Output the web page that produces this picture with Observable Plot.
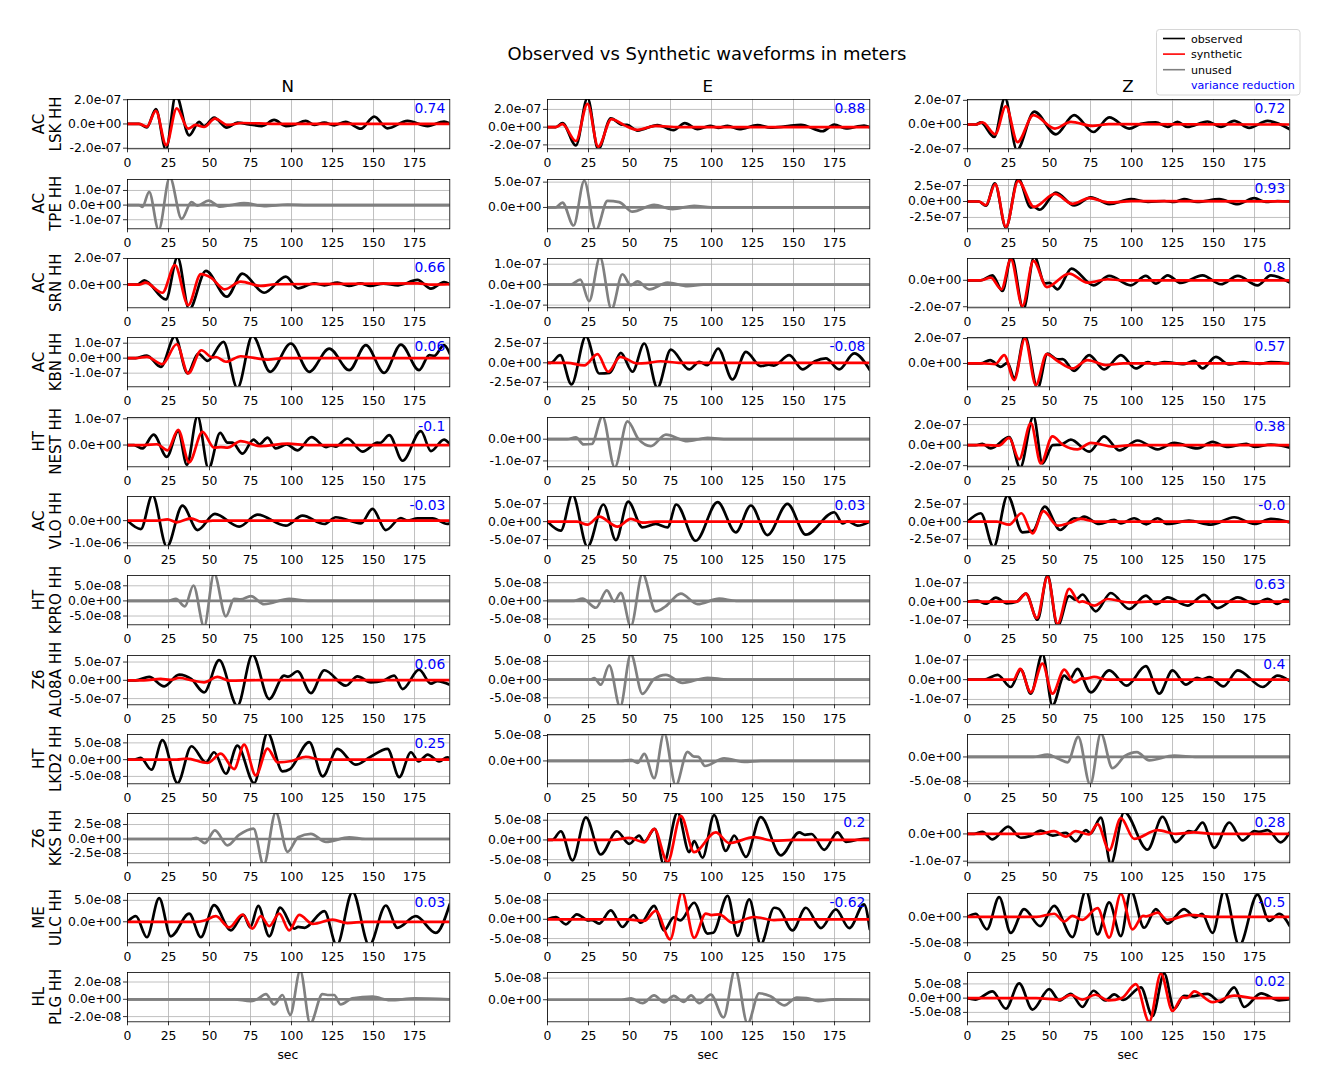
<!DOCTYPE html>
<html><head><meta charset="utf-8">
<script src="https://cdn.jsdelivr.net/npm/d3@7"></script>
<script src="https://cdn.jsdelivr.net/npm/@observablehq/plot@0.6"></script>
<style>
body{margin:0;background:#fff;}
#fig{position:relative;width:1329px;height:1091px;background:#fff;font-family:"DejaVu Sans",sans-serif;overflow:hidden;}
</style></head><body><div id="fig"></div>
<script>
// ---------- DATA (amplitudes in units of 1e-8 m, time in s) ----------
const UNIT = 1e-8;
const title = "Observed vs Synthetic waveforms in meters";
const components = ["N", "E", "Z"];
const stations = ["AC\nLSK HH","AC\nTPE HH","AC\nSRN HH","AC\nKBN HH","HT\nNEST HH","AC\nVLO HH","HT\nKPRO HH","Z6\nAL08A HH","HT\nLKD2 HH","Z6\nKKS HH","ME\nULC HH","HL\nPLG HH"];
const xTicks = [0,25,50,75,100,125,150,175];
const xDomain = [0, 196.5];
const legendLabels = ["observed","synthetic","unused","variance reduction"];
const varianceReduction = [
 ["0.74","0.88","0.72"],[null,null,"0.93"],["0.66",null,"0.8"],["0.06","-0.08","0.57"],
 ["-0.1",null,"0.38"],["-0.03","0.03","-0.0"],[null,null,"0.63"],["0.06",null,"0.4"],
 ["0.25",null,null],[null,"0.2","0.28"],["0.03","-0.62","-0.5"],[null,null,"0.02"]];
const yLimits = [
 [[-20.5,20.2],[-24.4,31.2],[-20.1,20.7]],
 [[-16.2,17.5],[-42.2,55.2],[-42.8,34.5]],
 [[-17.7,20],[-11.3,12.8],[-20.8,16.5]],
 [[-19.1,13.8],[-30.8,32.5],[-18.7,20.8]],
 [[-8.3,10.5],[-12.7,10],[-21.1,26.9]],
 [[-113.6,109],[-67.3,70],[-34.3,35.7]],
 [[-7.9,8.4],[-6.6,7],[-12.3,13.9]],
 [[-67,67.9],[-6.9,6.6],[-12.7,12.2]],
 [[-7.2,7.5],[-4.5,5.2],[-5.5,4.6]],
 [[-4.1,4.4],[-5.8,6.7],[-10.6,7.5]],
 [[-4.9,6.6],[-6.1,6.7],[-5,4.5]],
 [[-2.6,3.1],[-5.1,6.3],[-8.3,9]]];
const yTicks = [
 [[-20,0,20],[-20,0,20],[-20,0,20]],
 [[-10,0,10],[0,50],[-25,0,25]],
 [[0,20],[-10,0,10],[-20,0]],
 [[-10,0,10],[-25,0,25],[0,20]],
 [[0,10],[-10,0],[-20,0,20]],
 [[-100,0],[-50,0,50],[-25,0,25]],
 [[-5,0,5],[-5,0,5],[-10,0,10]],
 [[-50,0,50],[-5,0,5],[-10,0,10]],
 [[-5,0,5],[0,5],[-5,0]],
 [[-2.5,0,2.5],[-5,0,5],[-10,0]],
 [[0,5],[-5,0,5],[-5,0]],
 [[-2,0,2],[0,5],[-5,0,5]]];

const ZERO = [[0,0],[196.5,0]];

const LSK_N = [[0,0],[7,0],[11.8,-2.8],[17.3,12.2],[23.4,-21],[29.5,24],[37.6,-9.4],[43.7,1.7],[46.7,-1.7],[52.8,5.3],[60.6,-3],[67,1.1],[74,-0.3],[82,-1.7],[89.4,3.3],[96.5,-1.7],[101,-1],[108.7,2.5],[113.8,-0.8],[120,1.1],[126,-1.1],[133,1.7],[142.3,-3.9],[150.4,6.1],[158.5,-3.6],[170.7,2.5],[183,-1.7],[193,1.9],[196.5,0.5]];
const LSK_N_syn = [[0,0],[7,0],[11.8,-2.2],[17.3,10.8],[23.6,-17.5],[30,12.8],[37,-3.9],[41.5,-0.8],[46.7,-2.5],[53.3,4.4],[61,-0.8],[70,0.8],[90,0.1],[196.5,0]];
const LSK_E = [[0,0],[5,0],[9.1,4.6],[17.3,-20.6],[24.4,33],[30.9,-25],[38.6,9.9],[45.7,2.7],[48.5,2.5],[54.9,-3.8],[67,2.3],[76.8,-3.4],[83.7,4.6],[91.5,-2.3],[99.2,1.5],[104,-0.8],[109.8,1.5],[116.9,-2.3],[128,2.3],[136,-0.5],[145,0.8],[154.5,2.7],[167.7,-4.6],[174.8,3],[182,-1.5],[193,1.9],[196.5,0]];
const LSK_E_syn = [[0,0],[5,0],[9.1,3.4],[17.3,-15.6],[24.4,26.3],[30.9,-22],[39,9.1],[46.7,2.3],[54.9,-3],[66,1.5],[80,0],[196.5,0]];
const LSK_Z = [[0,0],[5,0],[8.1,1.7],[16.3,-10.3],[22.8,22],[30.1,-21],[40.7,10.6],[53.9,-8.1],[65,7.8],[76.8,-6.2],[86.4,5.9],[98.6,-3.4],[105.7,0.5],[114.8,1.7],[122,-2],[128,2.2],[134,-2],[146.3,2.5],[154.5,-2],[162.6,3],[171.7,-2.8],[183,3],[196.5,-3.9]];
const LSK_Z_syn = [[0,0],[5,0],[9.1,1.7],[16.9,-8.1],[23.4,15.1],[30.5,-14.5],[40.2,7.8],[53.3,-3.4],[63,2.2],[76.2,-1.1],[86,0.3],[196.5,0]];

const TPE_N = [[0,0],[7,0],[9.1,-1.3],[13.2,9],[19,-17],[25.8,19],[33,-9.4],[39,2],[42.7,-0.4],[49.4,3.1],[56.5,-1.1],[63,0],[71,1.3],[83.3,-0.7],[97.6,0.4],[110,0],[196.5,0]];
const TPE_E = [[0,0],[5,0],[9.1,9.7],[15.9,-35.7],[22.4,52.6],[29.5,-45],[36.6,13],[43.7,10.4],[51.8,-8.4],[65,5.2],[76.2,-3.2],[89.4,3.2],[100,0],[196.5,0]];
const TPE_Z = [[0,0],[7,0],[11.2,-6.7],[16.7,28.4],[23.4,-41],[30.9,36],[38.6,-9.5],[40.5,-8.5],[44,-12.9],[53.9,13.9],[65,-6.2],[75.2,6.7],[86.4,-4.1],[99.6,3.6],[110,-0.5],[120,0.8],[126,-0.8],[132,3.6],[140,-0.8],[153.5,3.6],[164.8,-4.1],[174.8,5.2],[182,-0.8],[189,0.8],[196.5,0]];
const TPE_Z_syn = [[0,0],[7,0],[11.2,-5.7],[16.9,27.3],[23.4,-39.7],[30.9,32.5],[40.5,-8.5],[53.3,11.9],[64,-3.6],[74.2,5.2],[86.4,-1.5],[100,0.5],[196.5,0]];

const SRN_N = [[0,0],[6,0],[10.2,3.3],[23.4,-11.3],[30.5,21],[37.6,-19],[47.8,10.5],[60.6,-9.2],[70,8.5],[83.3,-6.2],[96.5,6.2],[104,-2.8],[113.8,1],[120,-0.5],[128,1.5],[135,-1],[142,1],[148,-1],[156,0.8],[165,-0.5],[176.8,3.6],[185,-3],[193,2],[196.5,0.3]];
const SRN_N_syn = [[0,0],[7,0],[11,1.5],[21.3,-6.2],[28.9,14.9],[37,-15.6],[44.7,8],[50.8,5.4],[59.3,-3.6],[69,2.3],[81.3,-1],[90,0.3],[177,1],[185,0],[196.5,0.3]];
const SRN_E = [[0,0],[14,0],[20,2.5],[25.4,-8],[32,13.5],[39,-12],[45.7,5.1],[50.8,-0.3],[54.9,1.6],[62,-2.3],[73.2,1],[85.4,-0.7],[95,0],[196.5,0]];
const SRN_Z = [[0,0],[8,0],[15.2,3.8],[21.3,-8.1],[26.8,18],[34.1,-22],[40.7,18],[47.1,-2.3],[50,-2],[54.9,-6.8],[63.4,8.9],[76.8,-3.8],[86.4,3.3],[99.6,-3.8],[108.7,3.3],[115,-2.5],[122,3.8],[130,-2],[143.3,3.8],[154.5,-3],[164.8,3.3],[176.8,-3.8],[185,3.8],[196.5,-1.8]];
const SRN_Z_syn = [[0,0],[8,0],[14.2,2],[20.7,-6.8],[26.4,16],[33.5,-19.5],[40.2,14.7],[48.4,-5.1],[62,5.1],[73.2,-1.8],[85.4,0.8],[95,0],[196.5,0]];

const KBN_N = [[0,0],[5,0],[11.8,1.8],[20.3,-5.8],[28.9,14.5],[36.6,-10.2],[43.1,3.1],[48.8,-1.8],[58.5,10.9],[67,-20],[76.2,15],[87,-9.1],[99.6,9.8],[110.8,-9.1],[123,6.4],[135.2,-8],[145.3,8.7],[156.5,-9.8],[166.7,9.1],[177.8,-8],[184,2],[187,1.5],[193,8.7],[196.5,3]];
const KBN_N_syn = [[0,0],[5,0],[11.8,0.9],[21.3,-4],[30,9.3],[37,-10.2],[45,5.3],[51.8,0.4],[54,0.8],[60,-2.4],[69,1.3],[85.4,-0.9],[95,0],[196.5,0]];
const KBN_E = [[0,0],[2,0],[7.7,9.8],[14.6,-27.8],[23.4,34],[31.5,-13.7],[38,-13],[44.7,12.8],[51.8,-11.5],[59,24.8],[67,-32],[75.2,17],[86.4,-8.5],[92.5,1.3],[97.6,-3],[104,18.4],[112.8,-21.4],[121,14.1],[130,-4.3],[135,-2.5],[138,-3.5],[147.4,9.8],[155.5,-8.5],[163,2],[169.7,5.6],[177.8,-8.5],[187,12],[196.5,-9.4]];
const KBN_E_syn = [[0,0],[12,0],[22.4,-3.4],[30.5,11.1],[37,-11.5],[44.3,7.7],[54.9,-0.9],[60,-0.5],[69,2],[80,0],[196.5,0]];
const KBN_Z = [[0,0],[8,0],[13.8,2.7],[20.3,-2.7],[24.4,0.5],[28.5,-11.5],[35,22],[42.7,-20],[48.8,8],[54.9,3.2],[58,3.5],[65,-5.9],[74.2,6.7],[83.3,-4.8],[93.5,6.7],[102.6,-4],[110,1],[114,-0.5],[120,1],[132,-0.5],[138.2,2.1],[143.3,-4],[151.4,5.3],[159.5,-0.8],[168,1],[178,-0.3],[185,1],[196.5,0]];
const KBN_Z_syn = [[0,0],[10,0],[17,-0.5],[22.4,6.7],[28.5,-13.3],[35,20],[41.7,-17.3],[48.2,7.5],[54.9,2],[64,-4],[73.2,2.7],[84.4,-1.3],[95,0],[196.5,0]];

const NEST_N = [[0,0],[4,0],[9.1,-1.3],[15.9,4],[24,-4.5],[30.9,5.3],[36.2,-7.5],[42.7,11],[49.4,-9],[56.5,4.6],[61,0.9],[64,0.9],[70.1,-3.3],[76.8,2.1],[80.5,0.3],[85.4,2.8],[90.4,-1.3],[97,0.2],[103.7,-2],[112.2,3],[121,-0.8],[124,-0.2],[127,-0.6],[134.1,2.5],[143.3,-2.5],[152.4,0.9],[154,0.8],[159.6,3.8],[167.7,-6],[178.9,5.3],[185,-2.3],[193,2.1],[196.5,0.3]];
const NEST_N_syn = [[0,0],[10,0],[18,0.3],[24.4,-2],[30.9,5.8],[37.6,-6.6],[45.7,5],[52.8,-1],[57,-0.8],[61,-1],[69,1.5],[81,-0.4],[97.6,0.5],[110,0],[196.5,0]];
const NEST_E = [[0,0],[12,0],[17.3,0.9],[22,-2.4],[27,-2.2],[33.5,10.5],[41,-13],[48.8,8.2],[55.5,0],[63,-3.2],[72.2,2.1],[85.4,-0.9],[97.6,0.6],[110,0],[196.5,0]];
const NEST_Z = [[0,0],[5,0],[9.1,1.3],[14.2,-3.2],[25.4,7.7],[32.1,-22],[40.2,28],[45.7,-17.9],[52,0],[57,0.5],[63,5.4],[74.2,-6.4],[83.3,8.6],[92.5,-5.1],[103.7,4.5],[115.9,-4.2],[126,2.2],[140.2,-3.2],[149.4,3.2],[158,-1.8],[170,1.3],[175,-1.8],[185,0.6],[196.5,-2.5]];
const NEST_Z_syn = [[0,0],[12,0],[19,-0.5],[25.4,7],[31.5,-13.8],[38.6,21.4],[44.7,-17.9],[51.8,8.6],[58,0.5],[67,-4.2],[75.2,2.2],[89,-1.5],[100,0],[196.5,0]];

const VLO_N = [[0,0],[8.1,-37.9],[15.2,115],[24,-118],[33.5,68],[42.7,-42.4],[53.3,30.3],[68.1,-27.3],[79.3,27.3],[96.5,-22.7],[106.7,22.7],[120,-15.2],[127,15.2],[142.3,-12.1],[149.4,53],[157.5,-42.4],[166.7,12],[170.7,0],[176.8,10.6],[186,10],[195,-15],[196.5,-12]];
const VLO_N_syn = [[0,0],[18,0],[24.4,6],[30,-7.6],[38.6,10.6],[45,-4.5],[52,0],[196.5,0]];
const VLO_E = [[0,0],[8.1,-25.2],[15.2,75],[24.4,-70],[34.1,47.7],[41.7,-51.4],[49.2,56],[57.9,-15.9],[66,-6.5],[73.2,-15.9],[78.5,47.7],[90.4,-53.3],[103.7,54.2],[114.8,-29.9],[124,44.9],[134.1,-37.4],[146.3,49.5],[157.5,-36.4],[174.8,26.2],[180,-5],[183,1],[189,-11.2],[196.5,0]];
const VLO_E_syn = [[0,0],[18,0],[24.4,-8.4],[31.5,14],[42.7,-14],[50.8,7.5],[58,-3],[66,0],[196.5,0]];
const VLO_Z = [[0,0],[8.1,11.9],[15.9,-36],[24.4,37],[33.5,-15.2],[40,-13],[47.1,21.4],[56.5,-11.9],[65,4.8],[68,4],[71.1,7.1],[80.3,-3.3],[89.4,2.4],[93.5,-2.5],[101.6,4.8],[109,-3.8],[115.9,4.8],[122,-3.3],[135,1.4],[148.4,-4.3],[162.6,6.2],[175,-3.3],[185,3.8],[196.5,-1]];
const VLO_Z_syn = [[0,0],[18,0],[25.4,-4.3],[32.9,11.9],[39.6,-16.7],[46.3,14.8],[54.9,-5.7],[62,-2],[69,3.8],[78,0],[196.5,0]];

const KPRO_N = [[0,0],[25,0],[29.5,0.7],[35,-1.8],[40.2,5.1],[46.7,-8.5],[52.8,9],[60,-5.1],[65,0.7],[69,0.5],[75.2,1.6],[83.3,-1.1],[98.6,0.7],[110,0],[196.5,0]];
const KPRO_E = [[0,0],[16,0],[21.3,0.6],[29.5,-1.9],[36.2,2.9],[40.7,-0.2],[44.7,2.2],[50.8,-7],[57.9,7.5],[66,-2.9],[72,-1.5],[81.3,2],[91.5,-0.9],[104.7,0.6],[115,0],[196.5,0]];
const KPRO_Z = [[0,0],[6,0.5],[11.2,-1.1],[17.3,2.1],[24,-0.9],[30,0],[35.6,4.3],[42.7,-9.6],[48.8,14],[54.9,-13],[62,3],[66,1],[70.1,3.8],[78.2,-5.2],[87.4,4.6],[98.6,-3.9],[108.7,3.2],[115,-1.3],[122,2.3],[134.1,-2.1],[144.3,3.6],[152.4,-3.4],[164.8,2.3],[175,-1.2],[183,1.5],[189,-1.2],[194,1.1],[196.5,0.5]];
const KPRO_Z_syn = [[0,0],[30,0],[35.6,4.3],[42.3,-8.8],[48.8,13.2],[54.9,-11.8],[62,6.8],[68.1,-0.2],[70,0.2],[77.2,-2.1],[85.4,1.4],[98.6,-0.4],[110,0],[196.5,0]];

const AL08A_N = [[0,0],[5,0],[13.2,9.2],[22.4,-16.5],[31.5,15.6],[39,3],[46.7,-33],[55.9,55],[67,-70],[76.2,70],[86.4,-51.4],[95.5,12.8],[98,10],[103.7,24.8],[111.8,-34.9],[120,27.5],[133.1,-14.7],[140.2,11],[148.4,-5.5],[156,-1],[162.6,12.8],[167.7,-23.9],[177.8,29.4],[185,-9.2],[189,-2],[196.5,-12]];
const AL08A_N_syn = [[0,0],[10,0],[20.3,3.7],[26,1],[31.5,6.4],[40,-1],[46.7,-5.5],[54.9,9.2],[62,-1],[80,0.3],[196.5,0.3]];
const AL08A_E = [[0,0],[26,0],[28.5,0.4],[32.5,-1.4],[37.6,3.9],[44.3,-7.5],[50.8,7],[57.9,-3.9],[65,0.2],[72.2,1.3],[82.3,-0.9],[97.6,0.5],[110,0],[196.5,0]];
const AL08A_Z = [[0,0],[10,0],[18.3,2.4],[26.4,-3.7],[32.5,5.1],[38.6,-7.1],[45.7,13],[51.8,-13],[59,2],[62,0],[67,5.4],[75.2,-6.4],[86.4,4.7],[97,-3],[108.7,6.8],[116.9,-7.1],[125,4.7],[133.1,-2.5],[140,0.9],[143,0.2],[147.5,1.3],[156,-3.4],[164.8,4.7],[180,-3.7],[189,2],[196.5,-0.8]];
const AL08A_Z_syn = [[0,0],[28,0],[32.1,5.4],[38.6,-6.4],[45.7,8.1],[51.8,-7.1],[59,5.1],[65,-1.4],[70,0.6],[72,0.5],[77.2,1.4],[85,0],[196.5,0]];

const LKD2_N = [[0,0],[4,0],[8.1,0.5],[14.6,-3],[21.3,5.8],[30.5,-7],[39,4],[47.8,-0.8],[52.8,2.2],[60,-4.2],[67,4.2],[77.2,-7],[85.4,8],[94.5,-3.5],[99,-2.8],[110.8,5.2],[119,-5],[128,3.2],[139.2,-1.5],[148,0.8],[158.5,3.2],[165.7,-5.2],[172.8,2.2],[177.5,-0.5],[183,1.5],[190,-0.5],[195,0.7],[196.5,0.5]];
const LKD2_N_syn = [[0,0],[30,0],[36,0.3],[48.8,-1],[56.9,1.8],[65,-2.8],[71.1,4.5],[78.2,-4.7],[85.4,3.3],[91.5,-0.8],[100,-0.4],[108.7,0.8],[118,0],[196.5,0]];
const LKD2_E = [[0,0],[45,0],[51,0.2],[55,-0.4],[59,1.4],[65,-3.4],[71.1,5.5],[78.2,-4.8],[85.4,1.8],[89,0.9],[92,0.8],[96,-1],[107.7,0.5],[120,-0.2],[130,0],[196.5,0]];
const LKD2_Z = [[0,0],[40,0],[48.8,0.5],[55,-0.3],[61,-1.1],[67.5,4.1],[74.8,-5.7],[81.3,4.8],[88.4,-2.3],[96,0.2],[103.3,1],[110.8,-0.7],[126,0.3],[140,0],[196.5,0]];

const KKS_N = [[0,0],[38,0],[42,0.2],[47.2,-0.7],[53.3,1.5],[61,-1.1],[68,0.7],[76.8,1.8],[83,-4.5],[90.4,4.6],[97.6,-2.2],[104,0.3],[111.8,0.9],[121,-0.5],[135.2,0.3],[145,0],[196.5,0]];
const KKS_E = [[0,0],[3,0],[8.1,2.2],[15.2,-5.2],[23.4,5.7],[32.5,-3.7],[42.3,2.2],[49.8,-1],[55.9,1.1],[58.9,-0.5],[65.4,2.8],[70.7,-6],[79.3,7],[86.4,-3.1],[89.4,-0.3],[94.5,-4.5],[101.6,6.3],[108.7,-2.8],[113.8,1.1],[121,-4.3],[130,5.8],[142.3,-3.9],[153.5,1.9],[157,1.3],[161,1.5],[168.7,-2.5],[176.8,1.9],[182,-0.5],[193,0.3],[196.5,0.3]];
const KKS_E_syn = [[0,0],[40,0],[49.8,0.5],[59,-0.6],[65,2.8],[73.2,-5.6],[81.3,6.1],[89.4,-3.1],[102.6,1.9],[110.8,-0.8],[126,0.7],[138,-0.2],[150,0],[196.5,0]];
const KKS_Z = [[0,0],[4,0],[9.1,0.8],[15.2,-2],[24.8,2.7],[32.5,-1.4],[38,-0.8],[44.7,1.2],[52,-0.6],[60,0.4],[66,-2.7],[72.2,1.4],[75,0.2],[81.3,6],[87.4,-11],[95.5,8],[109.8,-5.8],[118.9,6.3],[127,-3],[135,1],[138,0.8],[143.3,4.2],[150.4,-5.1],[159.6,4.2],[167.7,-2.4],[175,1],[178,0.8],[183,1.4],[191,-3.1],[196.5,0.6]];
const KKS_Z_syn = [[0,0],[44,0],[52.8,1],[60,-1],[66,1],[74,-0.2],[79.3,3.6],[86.4,-6],[93.5,5.8],[101.6,-1.8],[115.9,1.4],[127,0],[138,0.6],[150,0],[196.5,0]];

const ULC_N = [[0,0],[5.1,1.3],[11.8,-3.6],[19.3,5.5],[26.4,-3.4],[37.6,1.9],[44.7,-3.6],[52.8,3.9],[63,-2],[70.7,1.6],[74.8,-1.3],[79.7,3.7],[86.4,-3.4],[93.1,3.3],[101.6,-1.6],[104,-1.2],[108,-1.4],[120,2.5],[127.6,-5.5],[137.2,7],[147.4,-5.5],[157.5,3.8],[164.6,-1.4],[175.8,1.3],[188,-2.6],[196.5,4.1]];
const ULC_N_syn = [[0,0],[42,0],[47,0.3],[53.9,1.3],[62,-1.3],[70.1,1.7],[76.2,-1.6],[81.3,1.3],[86.4,-1],[92.5,1.9],[98.6,-2],[104.7,1.6],[113,-0.5],[125,0.5],[134,-0.3],[145,0],[196.5,0]];
const ULC_E = [[0,0],[5.1,0.6],[11.2,-1.3],[17.9,1.3],[25,-0.3],[27,-0.2],[31.5,-1.1],[38.6,2.3],[45.7,-2],[52.4,1.1],[56.9,-0.9],[65,3.5],[71.1,-2.9],[77,0.5],[81,-0.3],[89.4,4.3],[97.6,-3.7],[101,-3.5],[109.8,6.1],[115.9,-4.3],[123,5.2],[130,-6.5],[138.2,3],[141,2.7],[149.4,-2.9],[157.5,3],[166.7,-2.3],[175.8,2.6],[184,-2.3],[193,3.9],[196.5,-2.6]];
const ULC_E_syn = [[0,0],[48,0],[59,-0.4],[66,2.2],[74.8,-5.2],[82,7],[89.4,-4.8],[96.5,1.5],[100,1.1],[104.7,1.3],[112.8,-0.9],[126,0.6],[138,-0.2],[150,0],[196.5,0]];
const ULC_Z = [[0,0],[5.1,0.6],[11.8,-2.4],[19.3,3.8],[26.4,-3.1],[34.5,1.5],[44.3,-1.8],[52.8,2.1],[64,-3.9],[72.2,5],[79.3,-3.4],[86.4,2.8],[93.5,-3.7],[99.6,5],[107.7,-2.1],[114.8,1.5],[122,-1.3],[132,1.5],[139,-0.1],[143,0.6],[149.4,-3.1],[156.5,5],[165.7,-5.5],[176.8,4.3],[184,-0.8],[190,0.6],[196.5,-1.8]];
const ULC_Z_syn = [[0,0],[42,0],[52.8,0.6],[59,-0.9],[64,0.2],[70,-0.6],[79.3,1.7],[86.4,-4],[93.5,4.4],[100.6,-2.4],[107,0.2],[109,0.1],[115.9,0.8],[122,-0.6],[135,0.4],[150,0],[196.5,0]];

const PLG_N = [[0,0],[65,0],[75,-0.2],[79,0],[84.4,0.6],[89.4,-0.6],[94.5,0.5],[99.2,-1.8],[105.3,3.3],[111.4,-2.8],[118.9,0.6],[122,0.5],[126,0.5],[130,-0.6],[137,0.1],[149.4,0.3],[160,-0.1],[175,0.1],[196.5,0]];
const PLG_E = [[0,0],[45,0],[51,0.3],[58,-0.8],[65,1],[71.1,-0.6],[77,0.9],[83,-0.5],[87.5,1],[92.5,-0.8],[99.6,1.2],[107.3,-4.1],[114.4,7],[122,-5.5],[129,1.5],[136,0.8],[144.3,-1.3],[152,0.5],[158,0.4],[165,-0.3],[175,0.1],[196.5,0]];
const PLG_Z = [[0,0],[5,-0.5],[15.2,2.4],[23.4,-3.7],[31.5,5.2],[39.6,-4],[49.8,3.2],[56,-0.8],[63,1.5],[70.1,-3.1],[76.8,2.6],[84,-0.8],[89.4,1.3],[95,-0.6],[105.7,3.8],[112.8,-6.3],[119.9,8.7],[126,-3.7],[132,0.8],[136,0.6],[146.3,1.5],[154.5,-1.4],[162.6,3.8],[168.7,-3.1],[179,1.7],[190,-0.8],[196.5,-0.4]];
const PLG_Z_syn = [[0,0],[42,0],[56,-0.5],[63,1.1],[70,-0.5],[78,1.2],[86,-0.8],[94,0],[102.6,4.9],[110.8,-8.3],[117.9,8.6],[125,-4.5],[131,0.3],[134,0.1],[138.2,2.4],[149.4,-1.4],[162.6,0.9],[175,0],[196.5,0]];

const observed = [
 [LSK_N, LSK_E, LSK_Z],[TPE_N, TPE_E, TPE_Z],[SRN_N, SRN_E, SRN_Z],[KBN_N, KBN_E, KBN_Z],
 [NEST_N, NEST_E, NEST_Z],[VLO_N, VLO_E, VLO_Z],[KPRO_N, KPRO_E, KPRO_Z],[AL08A_N, AL08A_E, AL08A_Z],
 [LKD2_N, LKD2_E, LKD2_Z],[KKS_N, KKS_E, KKS_Z],[ULC_N, ULC_E, ULC_Z],[PLG_N, PLG_E, PLG_Z]];
const synthetic = [
 [LSK_N_syn, LSK_E_syn, LSK_Z_syn],[ZERO, ZERO, TPE_Z_syn],[SRN_N_syn, ZERO, SRN_Z_syn],[KBN_N_syn, KBN_E_syn, KBN_Z_syn],
 [NEST_N_syn, ZERO, NEST_Z_syn],[VLO_N_syn, VLO_E_syn, VLO_Z_syn],[ZERO, ZERO, KPRO_Z_syn],[AL08A_N_syn, ZERO, AL08A_Z_syn],
 [LKD2_N_syn, ZERO, ZERO],[ZERO, KKS_E_syn, KKS_Z_syn],[ULC_N_syn, ULC_E_syn, ULC_Z_syn],[ZERO, ZERO, PLG_Z_syn]];

// ---------- LAYOUT ----------
const FONT = "DejaVu Sans";
const X0 = 126.7, COLSTEP = 420, Y0 = 99.3, ROWSTEP = 79.35;
const PW = 322.3, PH = 49.3;
const ML = 80, MR = 6, MT = 6, MB = 26;
const TICKFONT = 12.4;
const fig = document.getElementById("fig");

function sci(v) {
  const s = v.toExponential(1);
  return s.replace(/e([+-])(\d+)$/, (m, sg, d) => "e" + sg + d.padStart(2, "0"));
}

stations.forEach((st, i) => {
  components.forEach((c, j) => {
    const vr = varianceReduction[i][j];
    const used = vr !== null;
    const obsColor = used ? "black" : "gray";
    const synColor = used ? "red" : "gray";
    const lw = 2.7;
    const marks = [
      Plot.gridX(xTicks, {stroke: "#b0b0b0", strokeOpacity: 1, strokeWidth: 0.8}),
      Plot.gridY(yTicks[i][j].map(v => v * UNIT), {stroke: "#b0b0b0", strokeOpacity: 1, strokeWidth: 0.8}),
      Plot.line(observed[i][j], {x: d => d[0], y: d => d[1] * UNIT, stroke: obsColor, strokeWidth: lw, curve: "monotone-x", clip: true}),
      Plot.line(synthetic[i][j], {x: d => d[0], y: d => d[1] * UNIT, stroke: synColor, strokeWidth: lw, curve: "monotone-x", clip: true}),
      Plot.frame({stroke: "black", strokeWidth: 0.8}),
      Plot.axisX(xTicks, {tickSize: 4, tickPadding: 5.5, stroke: "black", strokeWidth: 0.8, fill: "black", fontSize: TICKFONT, label: null, tickFormat: d => String(d)}),
      Plot.axisY(yTicks[i][j].map(v => v * UNIT), {tickSize: 4, tickPadding: 2, stroke: "black", strokeWidth: 0.8, fill: "black", fontSize: TICKFONT, label: null, tickFormat: sci})
    ];
    if (used) {
      marks.push(Plot.text([vr], {text: d => d, frameAnchor: "top-right", textAnchor: "end", lineAnchor: "top", dx: -4.5, dy: 4, fill: "blue", fontSize: 13.9}));
    }
    const svg = Plot.plot({
      width: ML + PW + MR, height: MT + PH + MB,
      marginLeft: ML, marginRight: MR, marginTop: MT, marginBottom: MB,
      x: {domain: xDomain},
      y: {domain: yLimits[i][j].map(v => v * UNIT)},
      style: {fontFamily: FONT, fontSize: TICKFONT + "px", color: "black", background: "transparent", overflow: "visible"},
      marks
    });
    svg.style.position = "absolute";
    svg.style.left = (X0 + j * COLSTEP - ML) + "px";
    svg.style.top = (Y0 + i * ROWSTEP - MT) + "px";
    svg.style.maxWidth = "none";
    fig.appendChild(svg);
  });
});

// ---------- TEXT OVERLAY ----------
const ov = d3.select(fig).append("svg")
  .attr("width", 1329).attr("height", 1091)
  .style("position", "absolute").style("left", 0).style("top", 0)
  .style("pointer-events", "none")
  .attr("font-family", FONT);

ov.append("text").attr("x", 707).attr("y", 59.5).attr("text-anchor", "middle")
  .attr("font-size", 18).attr("fill", "black").text(title);

components.forEach((c, j) => {
  const cx = X0 + j * COLSTEP + PW / 2;
  ov.append("text").attr("x", cx).attr("y", 92).attr("text-anchor", "middle")
    .attr("font-size", 16.7).attr("fill", "black").text(c);
  ov.append("text").attr("x", cx).attr("y", 1059).attr("text-anchor", "middle")
    .attr("font-size", TICKFONT).attr("fill", "black").text("sec");
});

stations.forEach((st, i) => {
  const cy = Y0 + i * ROWSTEP + PH / 2;
  const t = ov.append("text").attr("transform", `translate(43.5,${cy}) rotate(-90)`)
    .attr("text-anchor", "middle").attr("font-size", 15).attr("fill", "black");
  st.split("\n").forEach((line, k) => {
    t.append("tspan").attr("x", 0).attr("y", k * 17).text(line);
  });
});

// legend
const lg = ov.append("g");
lg.append("rect").attr("x", 1156.5).attr("y", 29.5).attr("width", 143.5).attr("height", 65.5)
  .attr("rx", 3).attr("fill", "white").attr("stroke", "#d6d6d6").attr("stroke-width", 1);
const legendColors = ["black", "red", "gray", null];
legendLabels.forEach((lab, k) => {
  const y = 38.5 + k * 15.6;
  if (legendColors[k]) {
    lg.append("line").attr("x1", 1163).attr("x2", 1185).attr("y1", y).attr("y2", y)
      .attr("stroke", legendColors[k]).attr("stroke-width", 1.6);
  }
  lg.append("text").attr("x", 1191).attr("y", y + 4).attr("font-size", 11.1)
    .attr("fill", k === 3 ? "blue" : "black").text(lab);
});
</script></body></html>
